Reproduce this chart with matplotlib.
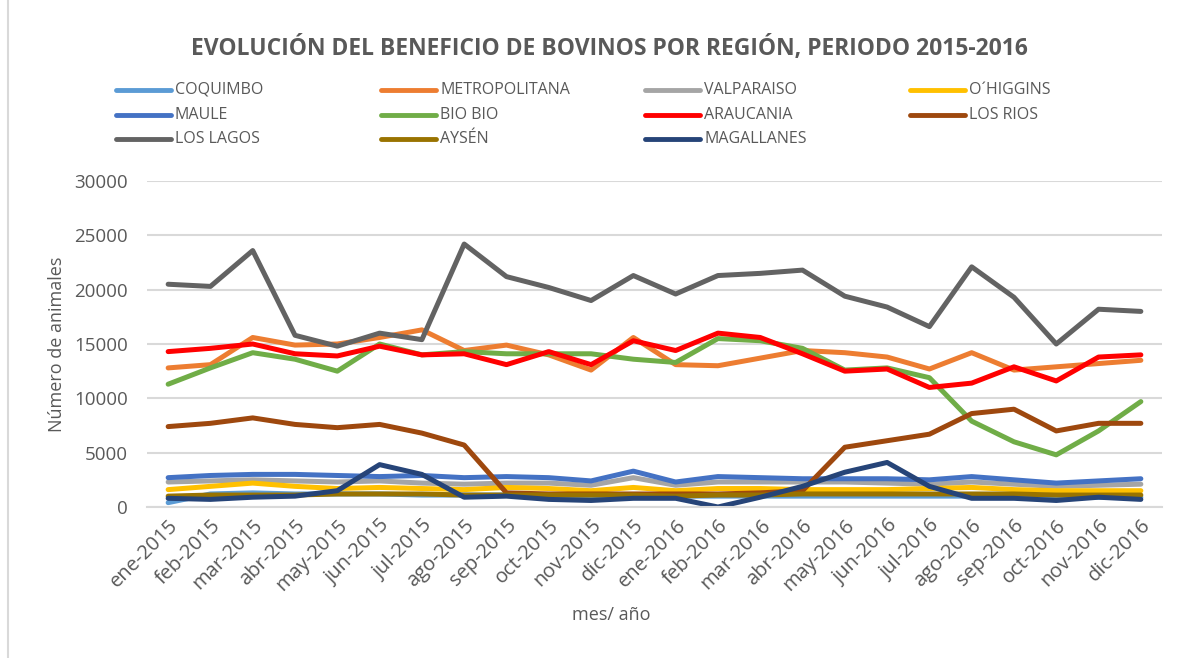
import numpy as np
import matplotlib
matplotlib.use("Agg")
from matplotlib import pyplot as plt
from matplotlib.lines import Line2D

plt.rcParams['font.family'] = ['Open Sans', 'DejaVu Sans']

# meses
meses = ['ene-2015', 'feb-2015', 'mar-2015', 'abr-2015', 'may-2015', 'jun-2015',
         'jul-2015', 'ago-2015', 'sep-2015', 'oct-2015', 'nov-2015', 'dic-2015',
         'ene-2016', 'feb-2016', 'mar-2016', 'abr-2016', 'may-2016', 'jun-2016',
         'jul-2016', 'ago-2016', 'sep-2016', 'oct-2016', 'nov-2016', 'dic-2016']

# valores
coquimbo = [400, 1200, 1300, 1200, 1200, 1200, 1100, 1100, 1100, 1000, 900, 1000,
            1000, 1000, 1000, 1000, 1000, 1000, 1000, 1000, 1000, 900, 900, 900]
metropolitana = [12800, 13100, 15600, 14900, 15000, 15600, 16300, 14400, 14900, 14000, 12600, 15600,
                 13100, 13000, 13700, 14400, 14200, 13800, 12700, 14200, 12600, 12900, 13200, 13500]
valparaiso = [2300, 2400, 2500, 2400, 2300, 2400, 2200, 2100, 2200, 2200, 2000, 2700,
              2000, 2300, 2300, 2300, 2300, 2200, 2100, 2300, 2100, 1900, 2000, 2100]
ohiggins = [1600, 1900, 2200, 1900, 1700, 1800, 1700, 1600, 1800, 1700, 1500, 1800,
            1500, 1700, 1700, 1600, 1600, 1600, 1700, 1800, 1600, 1500, 1500, 1500]
maule = [2700, 2900, 3000, 3000, 2900, 2800, 2900, 2700, 2800, 2700, 2400, 3300,
         2300, 2800, 2700, 2600, 2600, 2600, 2500, 2800, 2500, 2200, 2400, 2600]
biobio = [11300, 12800, 14200, 13600, 12500, 15000, 14000, 14300, 14100, 14100, 14100, 13600,
          13300, 15500, 15300, 14600, 12600, 12800, 11900, 7900, 6000, 4800, 7000, 9700]
araucania = [14300, 14600, 15000, 14100, 13900, 14800, 14000, 14100, 13100, 14300, 13100, 15300,
             14400, 16000, 15600, 14100, 12500, 12700, 11000, 11400, 12900, 11600, 13800, 14000]
losrios = [7400, 7700, 8200, 7600, 7300, 7600, 6800, 5700, 1300, 1200, 1200, 1200,
           1200, 1200, 1300, 1500, 5500, 6100, 6700, 8600, 9000, 7000, 7700, 7700]
loslagos = [20500, 20300, 23600, 15800, 14800, 16000, 15400, 24200, 21200, 20200, 19000, 21300,
            19600, 21300, 21500, 21800, 19400, 18400, 16600, 22100, 19300, 15000, 18200, 18000]
aysen = [1000, 1100, 1100, 1100, 1200, 1200, 1200, 1100, 1100, 1100, 1100, 1100,
         1000, 1100, 1100, 1200, 1200, 1200, 1200, 1200, 1200, 1100, 1100, 1100]
magallanes = [800, 700, 900, 1000, 1500, 3900, 3000, 900, 1000, 700, 600, 800,
              800, 0, 900, 1900, 3200, 4100, 1900, 800, 800, 600, 900, 700]

regiones = ['COQUIMBO', 'METROPOLITANA', 'VALPARAISO', 'O´HIGGINS', 'MAULE', 'BIO BIO',
            'ARAUCANIA', 'LOS RIOS', 'LOS LAGOS', 'AYSÉN', 'MAGALLANES']
series = [coquimbo, metropolitana, valparaiso, ohiggins, maule, biobio,
          araucania, losrios, loslagos, aysen, magallanes]
colores = ['#5B9BD5', '#ED7D31', '#A5A5A5', '#FFC000', '#4472C4', '#70AD47',
           '#FF0000', '#9E480E', '#636363', '#997300', '#264478']

gris = '#595959'

fig = plt.figure(figsize=(11.84, 6.58), dpi=100)
ax = fig.add_axes([147/1184, 1-507/658, 1015/1184, 326/658])

x = np.arange(len(meses))
for nombre, y, c in zip(regiones, series, colores):
    ax.plot(x, y, color=c, lw=3.6, solid_capstyle='round', solid_joinstyle='round', label=nombre)

ax.set_xlim(-0.5, len(meses) - 0.5)
ax.set_ylim(0, 30000)
ax.set_yticks(np.arange(0, 30001, 5000))
ax.yaxis.grid(True, color='#d9d9d9', lw=1.5)
ax.set_axisbelow(True)
for s in ['top', 'right', 'left']:
    ax.spines[s].set_visible(False)
ax.spines['bottom'].set_color('#d9d9d9')
ax.spines['bottom'].set_linewidth(1.5)
ax.tick_params(axis='y', length=0, pad=14, labelsize=13.5, labelcolor=gris)
ax.tick_params(axis='x', length=0, pad=6, labelsize=14.5, labelcolor=gris)
ax.set_xticks(x)
ax.set_xticklabels(meses, rotation=45, ha='right', rotation_mode='anchor')

ax.set_ylabel('Número de animales', fontsize=13, color=gris, va='center')
ax.yaxis.set_label_coords((57-147)/1015, 0.5)
ax.set_xlabel('mes/ año', fontsize=13, color=gris, va='center')
ax.xaxis.set_label_coords((611-147)/1015, -(615-507)/326)

fig.text(609/1184, 1-48/658, 'EVOLUCIÓN DEL BENEFICIO DE BOVINOS POR REGIÓN, PERIODO 2015-2016',
         ha='center', va='center', fontsize=16.5, fontweight='bold', color=gris)

# leyenda a mano, 4 columnas igual que excel
col_x = [116, 381, 645, 910]
fila_y = [90, 115, 139]
for i, (nombre, c) in enumerate(zip(regiones, colores)):
    cx = col_x[i % 4]
    cy = 1 - fila_y[i // 4] / 658
    fig.add_artist(Line2D([cx/1184, (cx+55)/1184], [cy, cy], color=c, lw=3.5,
                          solid_capstyle='round'))
    fig.text((cx+59)/1184, cy, nombre, ha='left', va='center', fontsize=11.5, color=gris)

# borde del grafico
fig.add_artist(Line2D([8/1184, 8/1184], [0, 1], color='#d9d9d9', lw=1.5))

fig.savefig('out.png', dpi=100)
